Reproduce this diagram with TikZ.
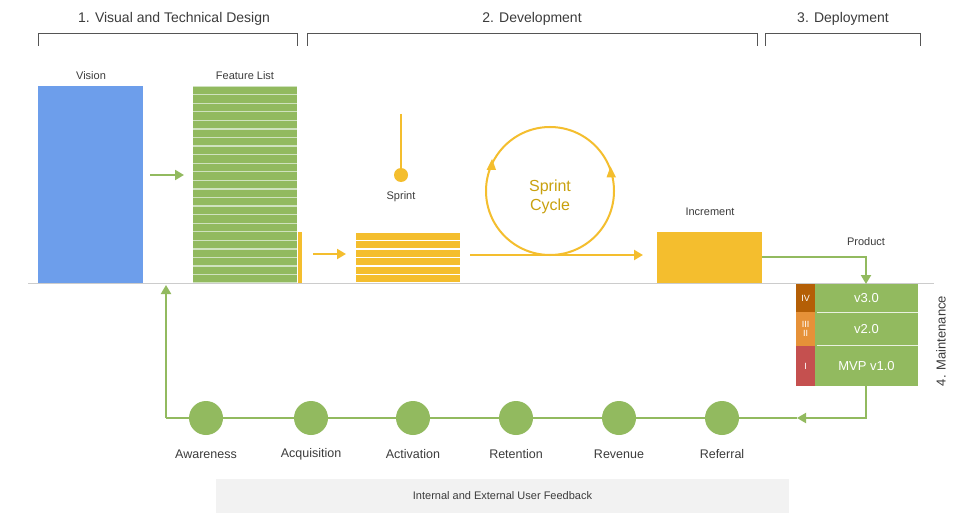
\documentclass[tikz,border=0pt]{standalone}
\usepackage{fontspec}
\setmainfont{Liberation Sans}
\usetikzlibrary{arrows.meta,calc}
\definecolor{txt}{HTML}{3C3C3C}
\definecolor{vblue}{HTML}{6D9EEB}
\definecolor{fgreen}{HTML}{92BA5F}
\definecolor{lgreen}{HTML}{CFE2BE}
\definecolor{yel}{HTML}{F4BE2E}
\definecolor{dyel}{HTML}{C9A10E}
\definecolor{base}{HTML}{CCCCCC}
\definecolor{rIV}{HTML}{B45F06}
\definecolor{rIII}{HTML}{E69138}
\definecolor{rI}{HTML}{C5504F}
\definecolor{fbbox}{HTML}{F2F2F2}
\definecolor{brk}{HTML}{555555}
\begin{document}
\begin{tikzpicture}[x=1pt,y=-1pt,
  lbl/.style={text=txt,font=\fontsize{11}{13}\selectfont,inner sep=0pt},
  hdr/.style={text=txt,font=\fontsize{14}{16}\selectfont,inner sep=0pt},
  stage/.style={text=txt,font=\fontsize{12.5}{15}\selectfont,inner sep=0pt},
  bracketline/.style={draw=brk,line width=0.9pt},
  garrow/.style={draw=fgreen,line width=2pt,-{Triangle[length=9pt,width=10pt]}},
  gline/.style={draw=fgreen,line width=2pt},
  yarrow/.style={draw=yel,line width=2pt,-{Triangle[length=9pt,width=10pt]}},
  dot/.style={circle,fill=fgreen,minimum size=34pt,inner sep=0pt},
  verrow/.style={fill=fgreen,text=white,font=\fontsize{13}{15}\selectfont,inner sep=0pt},
  roman/.style={text=white,font=\fontsize{9}{10}\selectfont,inner sep=0pt,align=center}
]
\useasboundingbox (0,0) rectangle (960,524);
\fill[white] (0,0) rectangle (960,524);

% headers and brackets
\node[hdr] (h1) at (174,19) {1. Visual and Technical Design};
\node[hdr] (h2) at (532,19) {2. Development};
\node[hdr] (h3) at (843,19) {3. Deployment};
\draw[bracketline] (38,46) -- (38,33) -- (297,33) -- (297,46);
\draw[bracketline] (307,46) -- (307,33) -- (757,33) -- (757,46);
\draw[bracketline] (765,46) -- (765,33) -- (920,33) -- (920,46);

% base line
\draw[base,line width=1.5pt] (28,283.5) -- (934,283.5);

% Vision
\node[fill=vblue,minimum width=105pt,minimum height=197pt,inner sep=0pt,anchor=north west] (vision) at (38,86) {};
\node[lbl,anchor=south] (visionlbl) at (91,80) {Vision};

% Feature list
\fill[lgreen] (193,86) rectangle (297,283);
\foreach \i in {0,...,22} {
  \fill[fgreen] (193,86+\i*8.565+0.8) rectangle (297,86+\i*8.565+8.565-0.5);
}
\node[inner sep=0pt,minimum width=104pt,minimum height=197pt,anchor=north west] (feat) at (193,86) {};
\node[lbl,anchor=south] (featlbl) at (245,80) {Feature List};
\fill[yel] (298,232) rectangle (301.5,283);

\draw[garrow] (vision.east |- 0,175) ++(7,0) -- (184,175);
\draw[yarrow] (313,254) -- (346,254);

% Sprint pin
\coordinate (pintop) at (401,114);
\node[circle,fill=yel,minimum size=14pt,inner sep=0pt] (pin) at (401,175) {};
\draw[yel,line width=2pt] (pintop) -- (pin.north);
\node[lbl] (sprintlbl) at (401,197) {Sprint};

% Sprint stack
\foreach \i in {0,...,5} {
  \fill[yel] (356,232+\i*8.5+0.6) rectangle (460,232+\i*8.5+8.5-0.6);
}
\node[inner sep=0pt,minimum width=104pt,minimum height=51pt,anchor=north west] (stack) at (356,232) {};

% Sprint cycle
\coordinate (cc) at (550,191);
\draw[yel,line width=2pt] (cc) circle (64);
\path (cc) ++(-157:64) coordinate (la);
\path (cc) ++(-16:64) coordinate (ra);
\fill[yel] ($(la)+(1,-7)$) -- ($(la)+(-4.5,4)$) -- ($(la)+(5,4)$) -- cycle;
\fill[yel] ($(ra)+(-1,-7)$) -- ($(ra)+(-5,4)$) -- ($(ra)+(4.5,4)$) -- cycle;
\node[text=dyel,font=\fontsize{16}{19}\selectfont,align=center,inner sep=0pt] (cyclelbl) at (550,197) {Sprint\\Cycle};

% Increment
\node[fill=yel,minimum width=105pt,minimum height=51pt,inner sep=0pt,anchor=north west] (inc) at (657,232) {};
\node[lbl] (inclbl) at (710,212) {Increment};
\draw[yarrow] (470,255) -- (643,255);

% Product connector
\node[lbl] (prodlbl) at (866,242) {Product};
\coordinate (prodtop) at (866,284);
\draw[garrow] (inc.east |- 0,257) -| (prodtop);

% Version table
\fill[rIV] (796,284) rectangle (815,312);
\fill[rIII] (796,312) rectangle (815,346);
\fill[rI] (796,346) rectangle (815,386);
\fill[fgreen] (815,284) rectangle (918,386);
\draw[white!80!fgreen,line width=1pt] (817,312.5) -- (918,312.5);
\draw[white!80!fgreen,line width=1pt] (817,345.5) -- (918,345.5);
\node[roman] (rn4) at (805.5,298) {IV};
\node[roman] (rn3) at (805.5,329) {III\\[-1pt]II};
\node[roman] (rn1) at (805.5,366) {I};
\node[verrow] (v3) at (866.5,298) {v3.0};
\node[verrow] (v2) at (866.5,329) {v2.0};
\node[verrow] (v1) at (866.5,366) {MVP v1.0};
\node[text=txt,font=\fontsize{13}{15}\selectfont,rotate=90,inner sep=0pt] (maint) at (941,341) {4. Maintenance};

% Feedback loop
\coordinate (loopR) at (797,418);
\coordinate (loopL) at (166,418);
\coordinate (loopTop) at (166,285);
\draw[garrow] (866,386) |- (loopR);
\draw[gline] (loopR) -- (loopL);
\draw[garrow] (loopL) -- (loopTop);

\foreach \n/\x/\t in {aw/206/Awareness,ac/311/Acquisition,at/413/Activation,re/516/Retention,rv/619/Revenue,rf/722/Referral} {
  \node[dot] (\n) at (\x,418) {};
  \node[stage] (\n lbl) at (\x,454) {\t};
}

% feedback box
\node[fill=fbbox,minimum width=573pt,minimum height=34pt,inner sep=0pt,text=txt,font=\fontsize{11}{13}\selectfont] (fb) at (502.5,496) {Internal and External User Feedback};
\end{tikzpicture}
\end{document}
